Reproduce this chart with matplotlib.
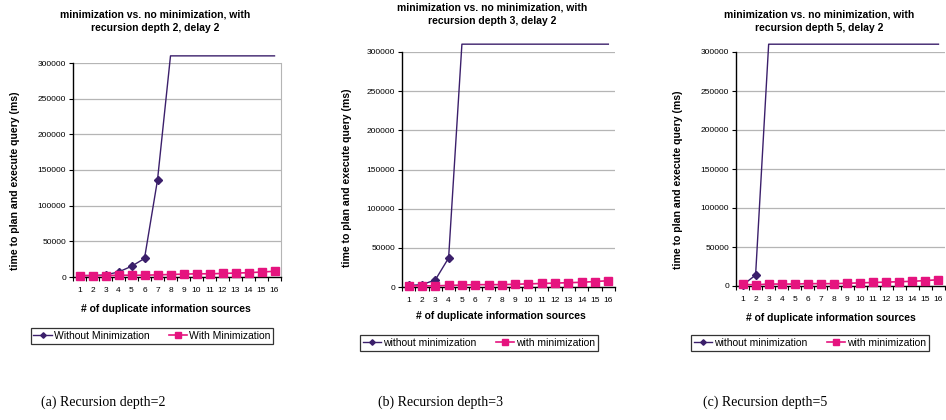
import matplotlib
matplotlib.use("Agg")
import matplotlib.pyplot as plt

plt.rcParams['font.family'] = ['Liberation Sans', 'DejaVu Sans']

# data
sources = [1, 2, 3, 4, 5, 6, 7, 8, 9, 10, 11, 12, 13, 14, 15, 16]

without_d2 = [2000, 2000, 3000, 7000, 15000, 26000, 136000, 310000, 310000,
              310000, 310000, 310000, 310000, 310000, 310000, 310000]
with_d2 = [2000, 2000, 2000, 2500, 2500, 2500, 3000, 3500, 4000, 4500, 4500,
           5000, 5500, 6000, 7000, 8000]

without_d3 = [2000, 3000, 9000, 37000, 310000, 310000, 310000, 310000, 310000,
              310000, 310000, 310000, 310000, 310000, 310000, 310000]
with_d3 = [1500, 1500, 1500, 2000, 2500, 3000, 3000, 3000, 3500, 4000, 4500,
           5000, 5500, 6000, 7000, 8000]

without_d5 = [1000, 14000, 310000, 310000, 310000, 310000, 310000, 310000, 310000,
              310000, 310000, 310000, 310000, 310000, 310000, 310000]
with_d5 = [2000, 1500, 2500, 2500, 2500, 3000, 3000, 3000, 3500, 4000, 4500,
           5000, 5500, 6000, 7000, 8000]

titles = ["minimization vs. no minimization, with\nrecursion depth 2, delay 2",
          "minimization vs. no minimization, with\nrecursion depth 3, delay 2",
          "minimization vs. no minimization, with\nrecursion depth 5, delay 2"]
legend_labels = [["Without Minimization", "With Minimization"],
                 ["without minimization", "with minimization"],
                 ["without minimization", "with minimization"]]
captions = ["(a) Recursion depth=2", "(b) Recursion depth=3", "(c) Recursion depth=5"]
yticks = [0, 50000, 100000, 150000, 200000, 250000, 300000]

W, H = 946, 420
fig = plt.figure(figsize=(W / 100, H / 100), dpi=100)

def fx(px):
    return px / W

def fy(py):
    return 1 - py / H

# panel layout in pixels: axes box, title, ylabel, xlabel, legend centre, caption
panels = [
    dict(box=(73, 63, 281, 277), title=(155, 21), ylab=(15, 181), xlab=(166, 309),
         leg=(152, 336), cap=(103, 402), right=True),
    dict(box=(402, 52, 615, 287), title=(492, 14), ylab=(347, 178), xlab=(501, 316),
         leg=(479, 343), cap=(440, 402), right=False),
    dict(box=(736, 52, 945, 286), title=(819, 21), ylab=(678, 180), xlab=(831, 318),
         leg=(810, 343), cap=(765, 402), right=False),
]
series = [(without_d2, with_d2), (without_d3, with_d3), (without_d5, with_d5)]

purple = '#3b1f6b'
magenta = '#e5147f'

for i, p in enumerate(panels):
    l, t, r, b = p['box']
    ax = fig.add_axes([fx(l), fy(b), fx(r - l), (b - t) / H])
    wo, wi = series[i]
    inside = [k for k, v in enumerate(wo) if v <= 300000]
    ax.plot(sources, wo, color=purple, lw=1, marker='D', ms=4, markevery=inside,
            clip_on=False, zorder=3, label=legend_labels[i][0])
    ax.plot(sources, wi, color=magenta, lw=1.2, marker='s', ms=5.5,
            clip_on=False, zorder=4, label=legend_labels[i][1])

    ax.set_xlim(0.5, 16.5)
    ax.set_ylim(0, 300000)
    ax.set_yticks(yticks)
    ax.set_yticklabels([str(v) for v in yticks])
    ax.set_xticks(sources)
    ax.set_xticks([k + 0.5 for k in range(0, 17)], minor=True)
    ax.tick_params(axis='x', which='major', length=0, pad=7, labelsize=6)
    ax.tick_params(axis='x', which='minor', length=3, width=0.8, direction='out')
    ax.tick_params(axis='y', length=3, width=0.8, labelsize=6, pad=2)
    ax.grid(axis='y', color='#b5b5b5', lw=0.9)
    ax.set_axisbelow(True)
    ax.spines['top'].set_visible(False)
    if p['right']:
        ax.spines['right'].set_color('#b5b5b5')
    else:
        ax.spines['right'].set_visible(False)
    ax.spines['left'].set_linewidth(1)
    ax.spines['bottom'].set_linewidth(1)

    fig.text(fx(p['title'][0]), fy(p['title'][1]), titles[i], ha='center', va='center',
             fontsize=7.5, fontweight='bold', linespacing=1.45)
    fig.text(fx(p['ylab'][0]), fy(p['ylab'][1]), "time to plan and execute query (ms)",
             rotation=90, ha='center', va='center', fontsize=7.6, fontweight='bold')
    fig.text(fx(p['xlab'][0]), fy(p['xlab'][1]), "# of duplicate information sources",
             ha='center', va='center', fontsize=7.5, fontweight='bold')

    leg = fig.legend(handles=ax.get_lines(), loc='center', ncol=2,
                     bbox_to_anchor=(fx(p['leg'][0]), fy(p['leg'][1])),
                     fontsize=7.5, frameon=True, fancybox=False,
                     borderpad=0.25, handlelength=1.8, handletextpad=0.2,
                     columnspacing=1.8, borderaxespad=0, markerscale=0.7)
    leg.get_frame().set_edgecolor('black')
    leg.get_frame().set_linewidth(0.9)

    fig.text(fx(p['cap'][0]), fy(p['cap'][1]), captions[i], ha='center', va='center',
             fontsize=10, family='Liberation Serif')

fig.savefig("out.png", dpi=100)
